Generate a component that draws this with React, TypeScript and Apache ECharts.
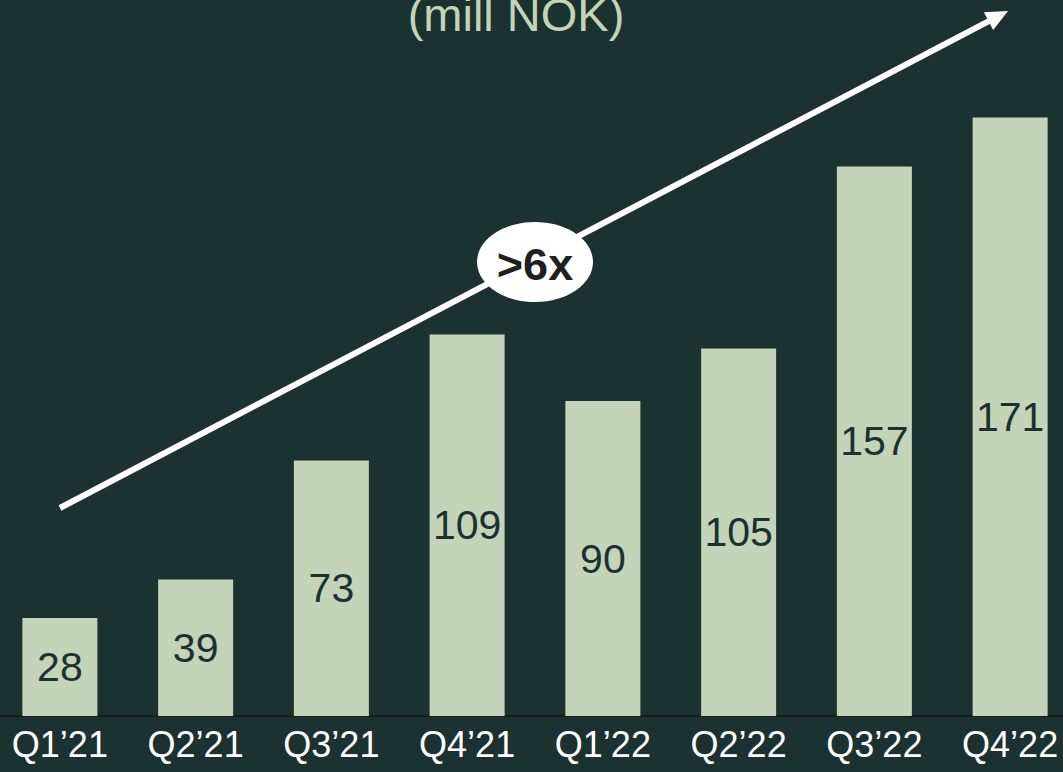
import React, { useEffect, useRef } from "react";
import * as echarts from "echarts";

const categories = ["Q1’21", "Q2’21", "Q3’21", "Q4’21", "Q1’22", "Q2’22", "Q3’22", "Q4’22"];
const values = [28, 39, 73, 109, 90, 105, 157, 171];
const title = "(mill NOK)";
const badge = ">6x";

const BG = "#1b3230";
const BAR = "#c3d4b9";
const FONT = "'Liberation Sans', Arial, sans-serif";
const OX = 8; // div is shifted 8px left of the page

// arrow geometry (annotation)
const tip = [1008, 11];
const start = [60, 508];
const dx = tip[0] - start[0];
const dy = tip[1] - start[1];
const len = Math.sqrt(dx * dx + dy * dy);
const ux = dx / len;
const uy = dy / len;
const headLen = 22;
const headHalf = 10;
const bx = tip[0] - ux * headLen;
const by = tip[1] - uy * headLen;

export default function App() {
  const ref = useRef<HTMLDivElement>(null);
  useEffect(() => {
    if (!ref.current) return;
    const chart = echarts.init(ref.current, null, { renderer: "svg" });
    chart.setOption({
      animation: false,
      backgroundColor: BG,
      textStyle: { fontFamily: FONT },
      grid: { left: 0, right: 0, top: 0, bottom: 56, containLabel: false },
      xAxis: {
        type: "category",
        data: categories,
        axisTick: { show: false },
        axisLine: { show: true, lineStyle: { color: "#1a1a1a", width: 2 } },
        axisLabel: { color: "#ffffff", fontSize: 36, margin: 10, fontFamily: FONT },
      },
      yAxis: {
        type: "value",
        min: 0,
        max: 716 / 3.5,
        show: false,
        splitLine: { show: false },
      },
      series: [
        {
          type: "bar",
          data: values,
          barWidth: 75,
          itemStyle: { color: BAR },
          label: {
            show: true,
            position: "inside",
            color: "#1b3230",
            fontSize: 41,
            fontFamily: FONT,
          },
        },
      ],
      graphic: [
        {
          type: "text",
          x: 516 + OX,
          y: -9,
          style: { text: title, fill: BAR, font: `47px ${FONT}`, align: "center", verticalAlign: "top" },
        },
        {
          type: "line",
          shape: { x1: start[0] + OX, y1: start[1], x2: bx + ux * 2 + OX, y2: by + uy * 2 },
          style: { stroke: "#ffffff", lineWidth: 6 },
          z: 10,
        },
        {
          type: "polygon",
          shape: {
            points: [
              [tip[0] + OX, tip[1]],
              [bx - uy * headHalf + OX, by + ux * headHalf],
              [bx + uy * headHalf + OX, by - ux * headHalf],
            ],
          },
          style: { fill: "#ffffff" },
          z: 10,
        },
        {
          type: "ellipse",
          shape: { cx: 535 + OX, cy: 262, rx: 58, ry: 40 },
          style: { fill: "#ffffff" },
          z: 11,
        },
        {
          type: "text",
          x: 535 + OX,
          y: 264,
          style: {
            text: badge,
            fill: "#1f1f1f",
            font: `bold 45px ${FONT}`,
            align: "center",
            verticalAlign: "middle",
          },
          z: 12,
        },
      ],
    });
    return () => chart.dispose();
  }, []);
  return (
    <div
      ref={ref}
      style={{ position: "fixed", left: -OX, top: 0, width: 1086, height: 772 }}
    />
  );
}
